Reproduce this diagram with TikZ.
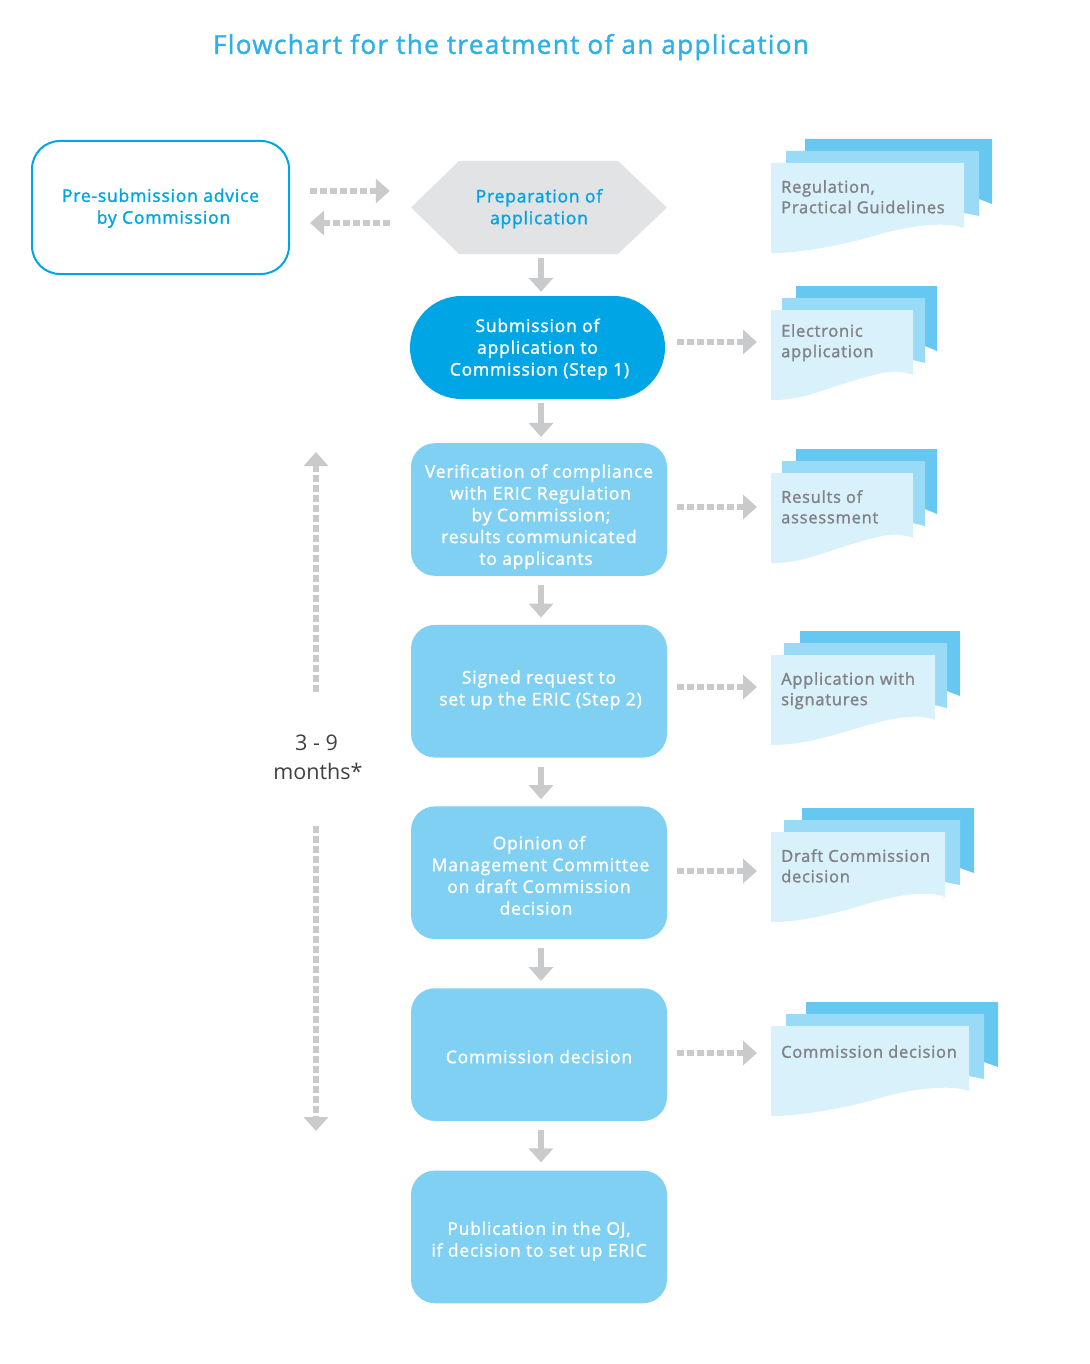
\documentclass[tikz,border=0pt]{standalone}
\usepackage{fontspec}
\usepackage{tikz}
\usetikzlibrary{shapes,arrows,arrows.meta,positioning}
\setmainfont{Open Sans}
\newfontfamily\labelfont[LetterSpace=4.5,FakeBold=1.5]{Open Sans}
\newfontfamily\titlefont[LetterSpace=5.3,FakeBold=1.5]{Open Sans}
\definecolor{cyanmain}{HTML}{00A5E5}
\definecolor{cyanbox}{HTML}{7FD0F2}
\definecolor{cyantitle}{HTML}{2FB0E8}
\definecolor{hexgrey}{HTML}{E1E3E4}
\definecolor{arrowgrey}{HTML}{C9CACC}
\definecolor{docback}{HTML}{66C7F1}
\definecolor{docmid}{HTML}{99DAF6}
\definecolor{docfront}{HTML}{D9F1FB}
\definecolor{doctext}{HTML}{808285}
\definecolor{timetext}{HTML}{404041}
\tikzset{
	boxtext/.style={font=\labelfont\fontsize{17.5}{21.8}\selectfont, align=center, inner sep=0pt},
	stepbox/.style={boxtext, fill=cyanbox, text=white, minimum width=256pt, minimum height=132.7pt, rounded corners=24pt},
	solidarrow/.style={draw=arrowgrey, line width=6pt, -{Triangle[length=14pt,width=24pt]}},
	dotarrow/.style={draw=arrowgrey, line width=6pt, dash pattern=on 7pt off 3pt, -{Triangle[length=14pt,width=24pt]}},
	doctitle/.style={font=\labelfont\fontsize{16.5}{20.5}\selectfont, align=left, inner sep=0pt, text=doctext, anchor=north west},
}
% #1 name, #2 front right, #3 front top, #4 mid left, #5 mid right, #6 back left, #7 back right, #8 first line y, #9 text
\newcommand{\docstack}[9]{
	\pgfmathsetmacro{\wavea}{771+(#2-771)*0.55}
	\fill [docback] (#6,#3-24) -- (#7,#3-24) -- (#7,#3+41) -- (#5,#3+36) -- (#6,#3+36) -- cycle;
	\fill [docmid] (#4,#3-12) -- (#5,#3-12) -- (#5,#3+53) -- (#2,#3+50) -- (#4,#3+50) -- cycle;
	\fill [docfront] (771,#3) -- (#2,#3) -- (#2,#3+65)
		.. controls (#2-18,#3+58) and (\wavea+30,#3+63) .. (\wavea,#3+72)
		.. controls (\wavea-30,#3+81) and (800,#3+90.5) .. (771,#3+90) -- cycle;
	\node [doctitle] (#1) at (781,#8-7) {#9};
}
\begin{document}
\begin{tikzpicture}[x=1pt,y=-1pt]
	\useasboundingbox (0,0) rectangle (1089,1364);
	\node [font=\titlefont\fontsize{26}{30}\selectfont, text=cyantitle, inner sep=0pt] (title) at (511,47) {Flowchart for the treatment of an application};

	\fill [hexgrey] (411,207.5) -- (459,161) -- (618,161) -- (667,207.5) -- (618,254) -- (459,254) -- cycle;

	\node [boxtext, draw=cyanmain, line width=2pt, fill=white, text=cyanmain, minimum width=257pt, minimum height=133pt, rounded corners=28pt] (advice) at (160.5,207.5) {\\[-7pt]Pre-submission advice\\\hspace*{6pt}by Commission};
	\node [boxtext, text=cyanmain, minimum width=256pt, minimum height=93pt] (prep) at (539,207.5) {\\[-6pt]Preparation of\\application};
	\node [stepbox, fill=cyanmain, minimum width=255pt, minimum height=103pt, rounded corners=51.4pt] (subm) at (537.5,347.5) {\\[-5pt]Submission of\\application to\\\hspace*{4pt}Commission (Step 1)};
	\node [stepbox] (verif) at (539,509.5) {\\[6pt]Verification of compliance\\\hspace*{3pt}with ERIC Regulation\\\hspace*{4pt}by Commission;\\results communicated\\to applicants\hspace*{6pt}};
	\node [stepbox, below=48.6pt of verif] (request) {\\[-11pt]Signed request to\\\hspace*{3pt}set up the ERIC (Step 2)};
	\node [stepbox, below=48.4pt of request] (opinion) {\\[-3pt]Opinion of\\\hspace*{3pt}Management Committee\\on draft Commission\\decision\hspace*{6pt}};
	\node [stepbox, below=48.8pt of opinion] (decision) {\\[-4.5pt]Commission decision};
	\node [stepbox, below=49.2pt of decision] (publ) {\\[0pt]Publication in the OJ,\\if decision to set up ERIC};

	\docstack{docA}{964}{163}{786}{979}{805}{992}{187}{Regulation,\\Practical Guidelines}
	\docstack{docB}{913}{310}{782}{925}{796}{937}{331}{Electronic\\application}
	\docstack{docC}{913}{473}{782}{925}{796}{937}{497}{Results of\\assessment}
	\docstack{docD}{935}{655}{784}{947}{800}{960}{679}{Application with\\signatures}
	\docstack{docE}{945}{832}{784}{960}{802}{974}{856}{Draft Commission\\decision}
	\docstack{docF}{969}{1026}{786}{984}{806}{998}{1052}{Commission decision}

	\coordinate (tipB) at (757,342);
	\coordinate (tipC) at (757,507);
	\coordinate (tipD) at (757,687);
	\coordinate (tipE) at (757,871);
	\coordinate (tipF) at (757,1053);

	% dotted arrows
	\draw [dotarrow, shorten <=20pt, shorten >=21pt] ([yshift=16.5pt]advice.east) -- ([yshift=16.5pt]prep.west);
	\draw [dotarrow, shorten <=21pt, shorten >=20pt] ([yshift=-15.5pt]prep.west) -- ([yshift=-15.5pt]advice.east);
	\draw [dotarrow, shorten <=12pt] (subm.east |- tipB) -- (tipB);
	\draw [dotarrow, shorten <=10pt] (verif.east |- tipC) -- (tipC);
	\draw [dotarrow, shorten <=10pt] (request.east |- tipD) -- (tipD);
	\draw [dotarrow, shorten <=10pt] (opinion.east |- tipE) -- (tipE);
	\draw [dotarrow, shorten <=10pt] (decision.east |- tipF) -- (tipF);

	% down arrows
	\draw [solidarrow, shorten <=4pt, shorten >=4pt] ([xshift=2pt]prep.south) -- ([xshift=3.5pt]subm.north);
	\draw [solidarrow, shorten <=4pt, shorten >=6pt] ([xshift=3.5pt]subm.south) -- ([xshift=2pt]verif.north);
	\draw [solidarrow, shorten <=9pt, shorten >=7pt] ([xshift=2pt]verif.south) -- ([xshift=2pt]request.north);
	\draw [solidarrow, shorten <=9pt, shorten >=7pt] ([xshift=2pt]request.south) -- ([xshift=2pt]opinion.north);
	\draw [solidarrow, shorten <=9pt, shorten >=7pt] ([xshift=2pt]opinion.south) -- ([xshift=2pt]decision.north);
	\draw [solidarrow, shorten <=9pt, shorten >=8pt] ([xshift=2pt]decision.south) -- ([xshift=2pt]publ.north);

	% time span
	\node [font=\fontsize{21.5}{29}\selectfont, text=timetext, align=center, inner sep=0pt] (span) at (318,757) {3 - 9\hspace*{3pt}\\months*};
	\coordinate (spanup) at (316,452);
	\coordinate (spandown) at (316,1131);
	\draw [dotarrow] (span.north -| spanup) ++(0,-42) -- (spanup);
	\draw [dotarrow] (span.south -| spandown) ++(0,46) -- (spandown);
\end{tikzpicture}
\end{document}
